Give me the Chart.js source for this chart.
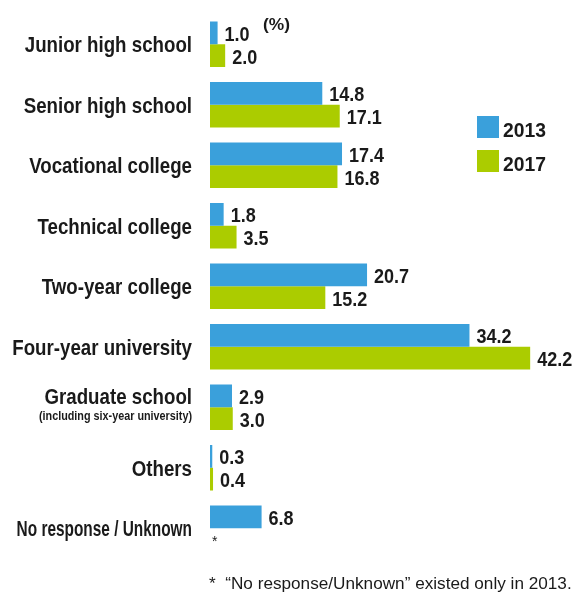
<!DOCTYPE html>
<html>
<head>
<meta charset="utf-8">
<script src="https://cdn.jsdelivr.net/npm/chart.js@4/dist/chart.umd.min.js"></script>
<style>
    html, body {
        margin: 0;
        padding: 0;
        background: #ffffff;
    }

    #wrap {
        width: 574px;
        height: 592px;
        position: relative;
    }
</style>
</head>
<body>

<div id="wrap">
    <canvas id="eduChart"></canvas>
</div>

<script>

/* =========================
DATA
========================= */

const categories = [
    "Junior high school",
    "Senior high school",
    "Vocational college",
    "Technical college",
    "Two-year college",
    "Four-year university",
    "Graduate school",
    "Others",
    "No response / Unknown"
];

const subLabels = [
    "", "", "", "", "", "",
    "(including six-year university)",
    "", ""
];

const values2013 = [1.0, 14.8, 17.4, 1.8, 20.7, 34.2, 2.9, 0.3, 6.8];

const values2017 = [2.0, 17.1, 16.8, 3.5, 15.2, 42.2, 3.0, 0.4, null];

const seriesNames = ["2013", "2017"];

const unitText = "(%)";

const footnote = "*  \u201cNo response/Unknown\u201d existed only in 2013.";

/* =========================
STYLE
========================= */

const BLUE = "#3aa0db";
const GREEN = "#abcc00";
const INK = "#1a1a1a";

const FONT = "'Liberation Sans', Arial, sans-serif";

// the last label is set tighter in the original
const squeezeFor = {
    "No response / Unknown": 0.7
};

// draw text squeezed horizontally (the original uses a condensed face)
function drawText(ctx, text, x, y, font, align, sx) {

    ctx.save();
    ctx.font = font;
    ctx.textAlign = align;
    ctx.textBaseline = "alphabetic";
    ctx.translate(x, y);
    ctx.scale(sx, 1);
    ctx.fillText(text, 0, 0);
    ctx.restore();

}

/* =========================
TEXT PLUGIN
========================= */

const textPlugin = {

    id: "textPlugin",

    afterDatasetsDraw(chart) {

        const ctx = chart.ctx;
        const yScale = chart.scales.y;
        const xScale = chart.scales.x;
        const area = chart.chartArea;
        const band = yScale.getPixelForValue(1) - yScale.getPixelForValue(0);
        const labelX = area.left - 18;

        ctx.save();
        ctx.fillStyle = INK;

        // category labels
        categories.forEach((label, i) => {

            const y = yScale.getPixelForValue(i);
            const sx = squeezeFor[label] || 0.85;

            if (subLabels[i]) {

                drawText(ctx, label, labelX, y - 3, "bold 22px " + FONT, "right", sx);
                drawText(ctx, subLabels[i], labelX, y + 13, "bold 12px " + FONT, "right", 0.9);

            } else {

                drawText(ctx, label, labelX, y + 8, "bold 22px " + FONT, "right", sx);

            }

        });

        // value labels
        chart.data.datasets.forEach((ds, d) => {

            const meta = chart.getDatasetMeta(d);

            meta.data.forEach((bar, i) => {

                const v = ds.data[i];

                if (v === null) {

                    const yStar = yScale.getPixelForValue(i) + band / 4;
                    drawText(ctx, "*", xScale.getPixelForValue(0) + 2, yStar + 3, "14px " + FONT, "left", 1);
                    return;

                }

                drawText(ctx, v.toFixed(1), bar.x + 7, bar.y + 8, "bold 20px " + FONT, "left", 0.9);

            });

        });

        // unit
        drawText(ctx, unitText, 263, 30, "bold 17px " + FONT, "left", 1.02);

        // legend
        chart.data.datasets.forEach((ds, d) => {

            const top = 116 + d * 34;

            ctx.fillStyle = ds.backgroundColor;
            ctx.fillRect(477, top, 22, 22);

            ctx.fillStyle = INK;
            drawText(ctx, ds.label, 503, top + 21, "bold 21px " + FONT, "left", 0.92);

        });

        // footnote
        drawText(ctx, footnote, 209, 589, "17px " + FONT, "left", 1.01);

        ctx.restore();

    }

};

/* =========================
CHART
========================= */

const eduChart = new Chart(document.getElementById("eduChart"), {

    type: "bar",

    data: {

        labels: categories,

        datasets: [

            {
                label: seriesNames[0],
                data: values2013,
                backgroundColor: BLUE
            },

            {
                label: seriesNames[1],
                data: values2017,
                backgroundColor: GREEN
            }

        ]

    },

    options: {

        indexAxis: "y",

        responsive: true,

        maintainAspectRatio: false,

        animation: false,

        categoryPercentage: 0.75,

        barPercentage: 1.0,

        layout: {
            padding: {
                left: 210,
                right: 15,
                top: 14,
                bottom: 33.5
            }
        },

        scales: {

            x: {
                display: false,
                min: 0,
                max: 46
            },

            y: {
                display: false
            }

        },

        plugins: {

            legend: {
                display: false
            },

            tooltip: {
                enabled: false
            }

        }

    },

    plugins: [textPlugin]

});

</script>
</body>
</html>
